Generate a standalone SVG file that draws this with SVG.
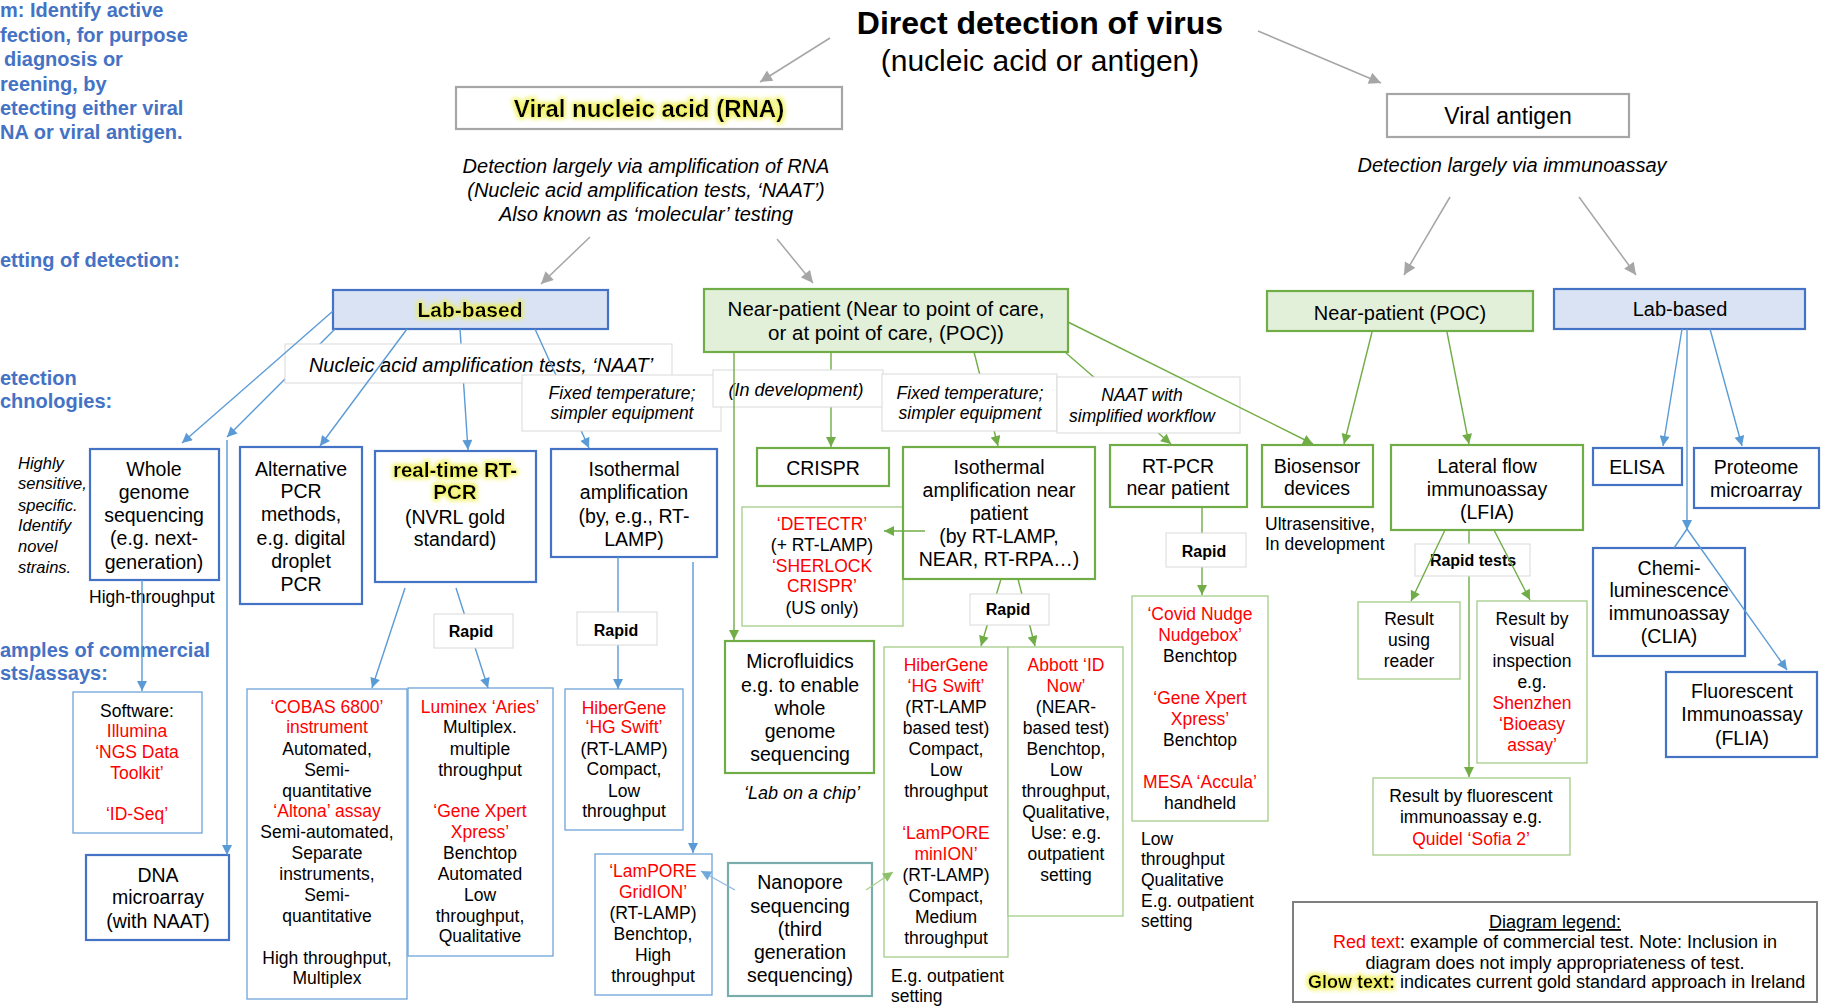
<svg xmlns="http://www.w3.org/2000/svg" width="1821" height="1006" viewBox="0 0 1821 1006">
<defs>
<style>
text{font-family:"Liberation Sans",Arial,sans-serif;fill:#000}
.t{font-size:19.5px;text-anchor:middle}
.s{font-size:17.5px;text-anchor:middle}
.a{font-size:17.5px}
.r{fill:#f00}
.i{font-style:italic}
.side{font-size:20px;font-weight:bold;fill:#4472c4}
.rp{font-size:16px;font-weight:bold;text-anchor:middle}
.kB{fill:#fff;stroke:#4472c4;stroke-width:2.2}
.nB{fill:#fff;stroke:#6fa3d8;stroke-width:1.3}
.kG{fill:#fff;stroke:#70ad47;stroke-width:2.2}
.nG{fill:#fff;stroke:#a3cc88;stroke-width:1.3}
.gy{fill:#fff;stroke:#a6a6a6;stroke-width:2.2}
.lbl{fill:#fff;stroke:#d9d9d9;stroke-width:1}
.cg{fill:none;stroke:#a6a6a6;stroke-width:1.5;marker-end:url(#mg)}
.cb{fill:none;stroke:#5b9bd5;stroke-width:1.4;marker-end:url(#mb)}
.cbn{fill:none;stroke:#5b9bd5;stroke-width:1.4}
.cgr{fill:none;stroke:#70ad47;stroke-width:1.4;marker-end:url(#mgr)}
.cbl{fill:none;stroke:#8fb8e0;stroke-width:1.4;marker-end:url(#mbl)}
.cgl{fill:none;stroke:#a9d18e;stroke-width:1.4;marker-end:url(#mgl)}
</style>
<marker id="mg" viewBox="0 0 10 10" refX="10" refY="5" markerWidth="13" markerHeight="12" markerUnits="userSpaceOnUse" orient="auto"><path d="M0,0 L10,5 L0,10 z" fill="#a6a6a6"/></marker>
<marker id="mb" viewBox="0 0 10 10" refX="10" refY="5" markerWidth="11" markerHeight="10" markerUnits="userSpaceOnUse" orient="auto"><path d="M0,0 L10,5 L0,10 z" fill="#5b9bd5"/></marker>
<marker id="mgr" viewBox="0 0 10 10" refX="10" refY="5" markerWidth="11" markerHeight="10" markerUnits="userSpaceOnUse" orient="auto"><path d="M0,0 L10,5 L0,10 z" fill="#70ad47"/></marker>
<marker id="mbl" viewBox="0 0 10 10" refX="10" refY="5" markerWidth="11" markerHeight="10" markerUnits="userSpaceOnUse" orient="auto"><path d="M0,0 L10,5 L0,10 z" fill="#6fa8dc"/></marker>
<marker id="mgl" viewBox="0 0 10 10" refX="10" refY="5" markerWidth="11" markerHeight="10" markerUnits="userSpaceOnUse" orient="auto"><path d="M0,0 L10,5 L0,10 z" fill="#8cc06a"/></marker>
<filter id="glow" x="-15%" y="-40%" width="130%" height="180%">
<feMorphology in="SourceAlpha" operator="dilate" radius="1.5" result="d"/>
<feGaussianBlur in="d" stdDeviation="2" result="bl"/>
<feFlood flood-color="#eeee44" flood-opacity="0.8"/>
<feComposite in2="bl" operator="in" result="g"/>
<feMerge><feMergeNode in="g"/><feMergeNode in="SourceGraphic"/></feMerge>
</filter>
</defs>
<rect x="0" y="0" width="1821" height="1006" fill="#fff"/>

<g id="side-labels">
<text class="side" x="0" y="17">m: Identify active</text>
<text class="side" x="0" y="42">fection, for purpose</text>
<text class="side" x="4" y="66">diagnosis or</text>
<text class="side" x="0" y="91">reening, by</text>
<text class="side" x="0" y="115">etecting either viral</text>
<text class="side" x="0" y="139">NA or viral antigen.</text>
<text class="side" x="0" y="267">etting of detection:</text>
<text class="side" x="0" y="385">etection</text>
<text class="side" x="0" y="408">chnologies:</text>
<text class="side" x="0" y="657">amples of commercial</text>
<text class="side" x="0" y="680">sts/assays:</text>
</g>

<g id="title">
<text x="1040" y="34" text-anchor="middle" font-size="32" font-weight="bold">Direct detection of virus</text>
<text x="1040" y="71" text-anchor="middle" font-size="30">(nucleic acid or antigen)</text>
</g>

<g id="viral-nucleic-acid">
<rect class="gy" x="456" y="87" width="386" height="42"/>
<text x="649" y="117" text-anchor="middle" font-size="24" font-weight="bold" filter="url(#glow)">Viral nucleic acid (RNA)</text>
</g>
<g id="rna-note">
<text class="i" font-size="20" text-anchor="middle"><tspan x="646" y="173">Detection largely via amplification of RNA</tspan><tspan x="646" y="197">(Nucleic acid amplification tests, ‘NAAT’)</tspan><tspan x="646" y="221">Also known as ‘molecular’ testing</tspan></text>
</g>
<g id="viral-antigen">
<rect class="gy" x="1387" y="94" width="242" height="43"/>
<text x="1508" y="124" text-anchor="middle" font-size="23">Viral antigen</text>
</g>
<g id="antigen-note">
<text class="i" x="1512" y="172" font-size="20" text-anchor="middle">Detection largely via immunoassay</text>
</g>

<g id="lab-based-rna">
<rect x="333" y="290" width="275" height="39" fill="#dae3f3" stroke="#4472c4" stroke-width="2.2"/>
<text x="470" y="317" text-anchor="middle" font-size="21" font-weight="bold" filter="url(#glow)">Lab-based</text>
</g>
<g id="near-patient-rna">
<rect x="704" y="289" width="364" height="63" fill="#e2f0d9" stroke="#70ad47" stroke-width="2.2"/>
<text font-size="20.5" text-anchor="middle"><tspan x="886" y="316">Near-patient (Near to point of care,</tspan><tspan x="886" y="340">or at point of care, (POC))</tspan></text>
</g>
<g id="near-patient-poc">
<rect x="1267" y="291" width="266" height="40" fill="#e2f0d9" stroke="#70ad47" stroke-width="2.2"/>
<text x="1400" y="320" text-anchor="middle" font-size="20">Near-patient (POC)</text>
</g>
<g id="lab-based-antigen">
<rect x="1554" y="289" width="251" height="40" fill="#dae3f3" stroke="#4472c4" stroke-width="2.2"/>
<text x="1680" y="316" text-anchor="middle" font-size="20">Lab-based</text>
</g>

<g id="whole-genome">
<rect class="kB" x="90" y="449" width="129" height="131"/>
<text class="t"><tspan x="154" y="476">Whole</tspan><tspan x="154" y="499">genome</tspan><tspan x="154" y="522">sequencing</tspan><tspan x="154" y="545">(e.g. next-</tspan><tspan x="154" y="569">generation)</tspan></text>
</g>
<g id="wgs-notes">
<text class="i" font-size="16.5"><tspan x="18" y="469">Highly</tspan><tspan x="18" y="489">sensitive,</tspan><tspan x="18" y="511">specific.</tspan><tspan x="18" y="531">Identify</tspan><tspan x="18" y="552">novel</tspan><tspan x="18" y="573">strains.</tspan></text>
<text class="a" x="89" y="603">High-throughput</text>
</g>
<g id="software">
<rect class="nB" x="73" y="692" width="129" height="141"/>
<text class="s"><tspan x="137" y="717">Software:</tspan><tspan class="r" x="137" y="737">Illumina</tspan><tspan class="r" x="137" y="758">‘NGS Data</tspan><tspan class="r" x="137" y="779">Toolkit’</tspan><tspan class="r" x="137" y="820">‘ID-Seq’</tspan></text>
</g>
<g id="dna-microarray">
<rect class="kB" x="86" y="855" width="143" height="85"/>
<text class="t"><tspan x="158" y="882">DNA</tspan><tspan x="158" y="904">microarray</tspan><tspan x="158" y="928">(with NAAT)</tspan></text>
</g>
<g id="alternative-pcr">
<rect class="kB" x="240" y="447" width="122" height="157"/>
<text class="t"><tspan x="301" y="476">Alternative</tspan><tspan x="301" y="498">PCR</tspan><tspan x="301" y="521">methods,</tspan><tspan x="301" y="545">e.g. digital</tspan><tspan x="301" y="568">droplet</tspan><tspan x="301" y="591">PCR</tspan></text>
</g>
<g id="rt-pcr">
<rect class="kB" x="375" y="451" width="161" height="131"/>
<text font-size="20.5" font-weight="bold" text-anchor="middle" filter="url(#glow)"><tspan x="455" y="477">real-time RT-</tspan><tspan x="455" y="499">PCR</tspan></text>
<text class="t"><tspan x="455" y="524">(NVRL gold</tspan><tspan x="455" y="546">standard)</tspan></text>
</g>
<g id="isothermal">
<rect class="kB" x="551" y="449" width="166" height="108"/>
<text class="t"><tspan x="634" y="476">Isothermal</tspan><tspan x="634" y="499">amplification</tspan><tspan x="634" y="523">(by, e.g., RT-</tspan><tspan x="634" y="546">LAMP)</tspan></text>
</g>
<g id="cobas">
<rect class="nB" x="247" y="689" width="160" height="310"/>
<text class="s"><tspan class="r" x="327" y="713">‘COBAS 6800’</tspan><tspan class="r" x="327" y="733">instrument</tspan><tspan x="327" y="755">Automated,</tspan><tspan x="327" y="776">Semi-</tspan><tspan x="327" y="797">quantitative</tspan><tspan class="r" x="327" y="817">‘Altona’ assay</tspan><tspan x="327" y="838">Semi-automated,</tspan><tspan x="327" y="859">Separate</tspan><tspan x="327" y="880">instruments,</tspan><tspan x="327" y="901">Semi-</tspan><tspan x="327" y="922">quantitative</tspan><tspan x="327" y="964">High throughput,</tspan><tspan x="327" y="984">Multiplex</tspan></text>
</g>
<g id="luminex">
<rect class="nB" x="408" y="688" width="145" height="268"/>
<text class="s"><tspan class="r" x="480" y="713">Luminex ‘Aries’</tspan><tspan x="480" y="733">Multiplex.</tspan><tspan x="480" y="755">multiple</tspan><tspan x="480" y="776">throughput</tspan><tspan class="r" x="480" y="817">‘Gene Xpert</tspan><tspan class="r" x="480" y="838">Xpress’</tspan><tspan x="480" y="859">Benchtop</tspan><tspan x="480" y="880">Automated</tspan><tspan x="480" y="901">Low</tspan><tspan x="480" y="922">throughput,</tspan><tspan x="480" y="942">Qualitative</tspan></text>
</g>
<g id="hibergene-lab">
<rect class="nB" x="565" y="689" width="118" height="141"/>
<text class="s"><tspan class="r" x="624" y="714">HiberGene</tspan><tspan class="r" x="624" y="733">‘HG Swift’</tspan><tspan x="624" y="755">(RT-LAMP)</tspan><tspan x="624" y="775">Compact,</tspan><tspan x="624" y="797">Low</tspan><tspan x="624" y="817">throughput</tspan></text>
</g>
<g id="lampore-gridion">
<rect class="nB" x="595" y="854" width="117" height="141"/>
<text class="s"><tspan class="r" x="653" y="877">‘LamPORE</tspan><tspan class="r" x="653" y="898">GridION’</tspan><tspan x="653" y="919">(RT-LAMP)</tspan><tspan x="653" y="940">Benchtop,</tspan><tspan x="653" y="961">High</tspan><tspan x="653" y="982">throughput</tspan></text>
</g>
<g id="nanopore">
<rect x="728" y="863" width="144" height="133" fill="#fff" stroke="#7bacac" stroke-width="2.2"/>
<text class="t"><tspan x="800" y="889">Nanopore</tspan><tspan x="800" y="913">sequencing</tspan><tspan x="800" y="936">(third</tspan><tspan x="800" y="959">generation</tspan><tspan x="800" y="982">sequencing)</tspan></text>
</g>
<g id="crispr">
<rect class="kG" x="757" y="448" width="132" height="38"/>
<text class="t" x="823" y="475">CRISPR</text>
</g>
<g id="detectr">
<rect class="nG" x="742" y="507" width="161" height="119"/>
<text class="s"><tspan class="r" x="822" y="530">‘DETECTR’</tspan><tspan x="822" y="551">(+ RT-LAMP)</tspan><tspan class="r" x="822" y="572">‘SHERLOCK</tspan><tspan class="r" x="822" y="592">CRISPR’</tspan><tspan x="822" y="614">(US only)</tspan></text>
</g>
<g id="isothermal-np">
<rect class="kG" x="903" y="447" width="192" height="132"/>
<text class="t"><tspan x="999" y="474">Isothermal</tspan><tspan x="999" y="497">amplification near</tspan><tspan x="999" y="520">patient</tspan><tspan x="999" y="543">(by RT-LAMP,</tspan><tspan x="999" y="566">NEAR, RT-RPA…)</tspan></text>
</g>
<g id="microfluidics">
<rect class="kG" x="725" y="641" width="149" height="132"/>
<text class="t"><tspan x="800" y="668">Microfluidics</tspan><tspan x="800" y="692">e.g. to enable</tspan><tspan x="800" y="715">whole</tspan><tspan x="800" y="738">genome</tspan><tspan x="800" y="761">sequencing</tspan></text>
<text class="i" x="802" y="799" font-size="18" text-anchor="middle">‘Lab on a chip’</text>
</g>
<g id="hibergene-np">
<rect class="nG" x="884" y="647" width="124" height="310"/>
<text class="s"><tspan class="r" x="946" y="671">HiberGene</tspan><tspan class="r" x="946" y="692">‘HG Swift’</tspan><tspan x="946" y="713">(RT-LAMP</tspan><tspan x="946" y="734">based test)</tspan><tspan x="946" y="755">Compact,</tspan><tspan x="946" y="776">Low</tspan><tspan x="946" y="797">throughput</tspan><tspan class="r" x="946" y="839">‘LamPORE</tspan><tspan class="r" x="946" y="860">minION’</tspan><tspan x="946" y="881">(RT-LAMP)</tspan><tspan x="946" y="902">Compact,</tspan><tspan x="946" y="923">Medium</tspan><tspan x="946" y="944">throughput</tspan></text>
<text class="a"><tspan x="891" y="982">E.g. outpatient</tspan><tspan x="891" y="1002">setting</tspan></text>
</g>
<g id="abbott">
<rect class="nG" x="1008" y="647" width="115" height="269"/>
<text class="s"><tspan class="r" x="1066" y="671">Abbott ‘ID</tspan><tspan class="r" x="1066" y="692">Now’</tspan><tspan x="1066" y="713">(NEAR-</tspan><tspan x="1066" y="734">based test)</tspan><tspan x="1066" y="755">Benchtop,</tspan><tspan x="1066" y="776">Low</tspan><tspan x="1066" y="797">throughput,</tspan><tspan x="1066" y="818">Qualitative,</tspan><tspan x="1066" y="839">Use: e.g.</tspan><tspan x="1066" y="860">outpatient</tspan><tspan x="1066" y="881">setting</tspan></text>
</g>
<g id="rt-pcr-np">
<rect class="kG" x="1110" y="445" width="137" height="62"/>
<text class="t"><tspan x="1178" y="473">RT-PCR</tspan><tspan x="1178" y="495">near patient</tspan></text>
</g>
<g id="covid-nudge">
<rect class="nG" x="1132" y="596" width="136" height="225"/>
<text class="s"><tspan class="r" x="1200" y="620">‘Covid Nudge</tspan><tspan class="r" x="1200" y="641">Nudgebox’</tspan><tspan x="1200" y="662">Benchtop</tspan><tspan class="r" x="1200" y="704">‘Gene Xpert</tspan><tspan class="r" x="1200" y="725">Xpress’</tspan><tspan x="1200" y="746">Benchtop</tspan><tspan class="r" x="1200" y="788">MESA ‘Accula’</tspan><tspan x="1200" y="809">handheld</tspan></text>
<text class="a"><tspan x="1141" y="845">Low</tspan><tspan x="1141" y="865">throughput</tspan><tspan x="1141" y="886">Qualitative</tspan><tspan x="1141" y="907">E.g. outpatient</tspan><tspan x="1141" y="927">setting</tspan></text>
</g>
<g id="biosensor">
<rect class="kG" x="1262" y="445" width="111" height="62"/>
<text class="t"><tspan x="1317" y="473">Biosensor</tspan><tspan x="1317" y="495">devices</tspan></text>
<text class="a"><tspan x="1265" y="530">Ultrasensitive,</tspan><tspan x="1265" y="550">In development</tspan></text>
</g>
<g id="lfia">
<rect class="kG" x="1391" y="445" width="192" height="85"/>
<text class="t"><tspan x="1487" y="473">Lateral flow</tspan><tspan x="1487" y="496">immunoassay</tspan><tspan x="1487" y="519">(LFIA)</tspan></text>
</g>
<g id="result-reader">
<rect class="nG" x="1358" y="602" width="102" height="77"/>
<text class="s"><tspan x="1409" y="625">Result</tspan><tspan x="1409" y="646">using</tspan><tspan x="1409" y="667">reader</tspan></text>
</g>
<g id="result-visual">
<rect class="nG" x="1477" y="601" width="110" height="162"/>
<text class="s"><tspan x="1532" y="625">Result by</tspan><tspan x="1532" y="646">visual</tspan><tspan x="1532" y="667">inspection</tspan><tspan x="1532" y="688">e.g.</tspan><tspan class="r" x="1532" y="709">Shenzhen</tspan><tspan class="r" x="1532" y="730">‘Bioeasy</tspan><tspan class="r" x="1532" y="751">assay’</tspan></text>
</g>
<g id="result-fluorescent">
<rect class="nG" x="1373" y="778" width="197" height="77"/>
<text class="s"><tspan x="1471" y="802">Result by fluorescent</tspan><tspan x="1471" y="823">immunoassay e.g.</tspan><tspan class="r" x="1471" y="845">Quidel ‘Sofia 2’</tspan></text>
</g>
<g id="elisa">
<rect class="kB" x="1593" y="448" width="89" height="37"/>
<text class="t" x="1637" y="474">ELISA</text>
</g>
<g id="proteome">
<rect class="kB" x="1694" y="448" width="125" height="60"/>
<text class="t"><tspan x="1756" y="474">Proteome</tspan><tspan x="1756" y="497">microarray</tspan></text>
</g>
<g id="clia">
<rect class="kB" x="1593" y="548" width="152" height="108"/>
<text class="t"><tspan x="1669" y="575">Chemi-</tspan><tspan x="1669" y="597">luminescence</tspan><tspan x="1669" y="620">immunoassay</tspan><tspan x="1669" y="643">(CLIA)</tspan></text>
</g>
<g id="flia">
<rect class="kB" x="1666" y="672" width="151" height="85"/>
<text class="t"><tspan x="1742" y="698">Fluorescent</tspan><tspan x="1742" y="721">Immunoassay</tspan><tspan x="1742" y="745">(FLIA)</tspan></text>
</g>
<g id="legend">
<rect x="1293" y="902" width="524" height="100" fill="#fff" stroke="#7f7f7f" stroke-width="2"/>
<text x="1555" y="928" font-size="18" text-anchor="middle" text-decoration="underline">Diagram legend:</text>
<text x="1555" y="948" font-size="18" text-anchor="middle"><tspan class="r">Red text</tspan>: example of commercial test.  Note: Inclusion in</text>
<text x="1555" y="969" font-size="18" text-anchor="middle">diagram does not imply appropriateness of test.</text>
<text x="1308" y="988" font-size="18" font-weight="bold" filter="url(#glow)">Glow text:</text>
<text x="1400" y="988" font-size="18">indicates current gold standard approach in Ireland</text>
</g>

<g id="connectors">
<g id="top-arrows">
<line class="cg" x1="830" y1="38" x2="760" y2="82"/>
<line class="cg" x1="1258" y1="31" x2="1381" y2="83"/>
<line class="cg" x1="590" y1="237" x2="541" y2="284"/>
<line class="cg" x1="777" y1="239" x2="813" y2="283"/>
<line class="cg" x1="1450" y1="197" x2="1404" y2="275"/>
<line class="cg" x1="1579" y1="197" x2="1636" y2="275"/>
</g>
<g id="under-labels">
<line class="cb" x1="335" y1="329" x2="227" y2="437"/>
<line class="cb" x1="460" y1="329" x2="468" y2="450"/>
<line class="cb" x1="456" y1="588" x2="488" y2="688"/>
<line class="cb" x1="618" y1="557" x2="618" y2="689"/>
<line class="cgr" x1="831" y1="352" x2="831" y2="447"/>
<line class="cgr" x1="974" y1="352" x2="998" y2="446"/>
<line class="cgr" x1="1066" y1="353" x2="1171" y2="444"/>
<line class="cgr" x1="1001" y1="579" x2="981" y2="646"/>
<line class="cgr" x1="1018" y1="579" x2="1035" y2="646"/>
<line class="cgr" x1="1202" y1="507" x2="1202" y2="595"/>
<line class="cgr" x1="1469" y1="530" x2="1469" y2="777"/>
</g>
<g id="edge-labels-1">
<rect class="lbl" x="285" y="344" width="387" height="39"/>
<text class="i" x="481" y="372" font-size="20" text-anchor="middle">Nucleic acid amplification tests, ‘NAAT’</text>
</g>
<g id="over-naat">
<line class="cb" x1="333" y1="311" x2="182" y2="443"/>
<line class="cb" x1="407" y1="329" x2="320" y2="446"/>
<line class="cb" x1="535" y1="329" x2="589" y2="448"/>
</g>
<g id="edge-labels-2">
<rect class="lbl" x="522" y="375" width="199" height="56"/>
<text class="i" font-size="17.5" text-anchor="middle"><tspan x="622" y="399">Fixed temperature;</tspan><tspan x="622" y="419">simpler equipment</tspan></text>
<rect class="lbl" x="713" y="370" width="170" height="37"/>
<text class="i" x="796" y="396" font-size="18" text-anchor="middle">(In development)</text>
<rect class="lbl" x="882" y="374" width="175" height="57"/>
<text class="i" font-size="17.5" text-anchor="middle"><tspan x="970" y="399">Fixed temperature;</tspan><tspan x="970" y="419">simpler equipment</tspan></text>
<rect class="lbl" x="1057" y="377" width="183" height="56"/>
<text class="i" font-size="17.5" text-anchor="middle"><tspan x="1142" y="401">NAAT with</tspan><tspan x="1142" y="422">simplified workflow</tspan></text>
<rect class="lbl" x="434" y="614" width="79" height="34"/>
<text class="rp" x="471" y="637">Rapid</text>
<rect class="lbl" x="577" y="612" width="80" height="33"/>
<text class="rp" x="616" y="636">Rapid</text>
<rect class="lbl" x="970" y="594" width="79" height="31"/>
<text class="rp" x="1008" y="615">Rapid</text>
<rect class="lbl" x="1166" y="533" width="80" height="34"/>
<text class="rp" x="1204" y="557">Rapid</text>
<rect class="lbl" x="1415" y="544" width="115" height="32"/>
<text class="rp" x="1473" y="566">Rapid tests</text>
</g>
<g id="other-connectors">
<line class="cgr" x1="734" y1="352" x2="734" y2="640"/>
<line class="cgr" x1="1068" y1="322" x2="1313" y2="444"/>
<line class="cgr" x1="1445" y1="530" x2="1411" y2="601"/>
<line class="cgr" x1="1494" y1="530" x2="1530" y2="600"/>
<line class="cgr" x1="1372" y1="332" x2="1344" y2="444"/>
<line class="cgr" x1="1447" y1="332" x2="1469" y2="444"/>
<line class="cgr" x1="925" y1="531" x2="884" y2="531"/>
<line class="cb" x1="142" y1="580" x2="142" y2="691"/>
<line class="cb" x1="227" y1="440" x2="227" y2="855"/>
<line class="cb" x1="405" y1="588" x2="372" y2="688"/>
<line class="cb" x1="693" y1="562" x2="693" y2="853"/>
<line class="cbl" x1="735" y1="890" x2="701" y2="871"/>
<line class="cgl" x1="866" y1="890" x2="893" y2="872"/>
<line class="cb" x1="1682" y1="329" x2="1663" y2="446"/>
<line class="cb" x1="1710" y1="329" x2="1742" y2="446"/>
<line class="cb" x1="1687" y1="329" x2="1687" y2="530"/>
<line class="cbn" x1="1674" y1="548" x2="1687" y2="529"/>
<line class="cb" x1="1687" y1="529" x2="1787" y2="670"/>
</g>
</g>
</svg>
